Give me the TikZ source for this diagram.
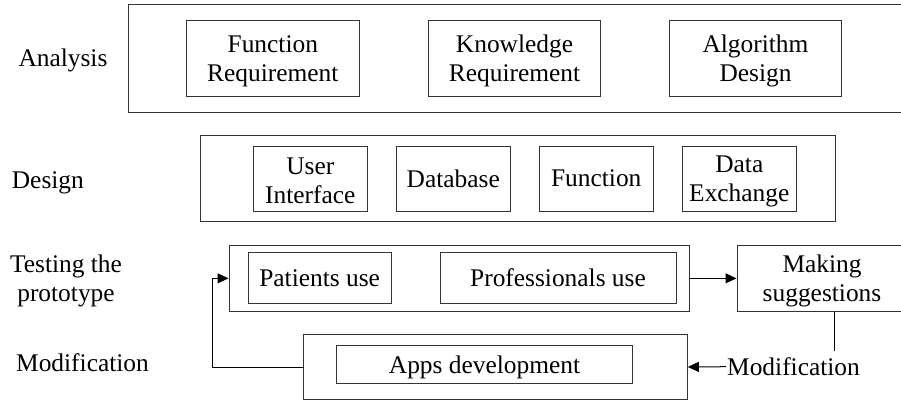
\documentclass[tikz,border=0pt]{standalone}
\usepackage{fontspec}
\setmainfont{Liberation Serif}
\usetikzlibrary{arrows.meta}
\newcommand{\topstrut}{\rule{0pt}{22pt}}
\tikzset{
  txt/.style={font=\fontsize{25.4}{29}\selectfont, inner sep=0pt},
  boxed/.style={draw=black!80, line width=1pt, rectangle, align=center, inner sep=0pt,
     font=\fontsize{25.4}{29}\selectfont},
  conn/.style={draw=black, line width=1pt},
  arr/.style={conn, -{Triangle[length=11pt,width=10pt]}}
}
\begin{document}
\begin{tikzpicture}[x=1pt,y=-1pt]
\useasboundingbox (0,0) rectangle (901,401);
% Analysis row
\node[boxed, minimum width=779pt, minimum height=108pt] (anaOuter) at (517.5,59) {};
\node[boxed, minimum width=173.6pt, minimum height=76pt] (fr) at (272.8,59) {\topstrut Function\\Requirement};
\node[boxed, minimum width=172.6pt, minimum height=76pt] (kr) at (514.5,59) {\topstrut Knowledge\\Requirement};
\node[boxed, minimum width=172.2pt, minimum height=76pt] (ad) at (755.5,59) {\topstrut Algorithm\\Design};
% Design row
\node[boxed, minimum width=634.5pt, minimum height=86.7pt] (desOuter) at (517.75,178.35) {};
\node[boxed, minimum width=114.6pt, minimum height=65pt] (ui) at (310.3,178.5) {\topstrut User\\Interface};
\node[boxed, minimum width=114.1pt, minimum height=65pt] (db) at (453.25,178.5) {Database};
\node[boxed, minimum width=114.5pt, minimum height=65pt] (fn) at (596.25,178.5) {Function};
\node[boxed, minimum width=114.6pt, minimum height=65pt] (dx) at (739.3,178.5) {\topstrut Data\\Exchange};
% Testing row
\node[boxed, minimum width=460.5pt, minimum height=66.7pt] (testOuter) at (459.25,278.35) {};
\node[boxed, minimum width=143.3pt, minimum height=50.6pt] (pu) at (319.65,278) {Patients use};
\node[boxed, minimum width=236pt, minimum height=50.6pt] (pr) at (558,278) {Professionals use};
\node[boxed, minimum width=170pt, minimum height=66.7pt] (ms) at (822,278.35) {\topstrut Making\\suggestions};
% Modification row
\node[boxed, minimum width=383.8pt, minimum height=65pt] (appsOuter) at (495.4,367) {};
\node[boxed, minimum width=296.4pt, minimum height=38pt, text height=24pt, text depth=5.5pt] (apps) at (484.5,364) {Apps development};
\node[txt, anchor=west, inner sep=1pt] (modlab) at (726,366.7) {Modification};
% left labels
\node[txt, anchor=base west] (lana) at (18.3,66.7) {Analysis};
\node[txt, anchor=base west] (ldes) at (11.7,188.3) {Design};
\node[txt, align=center] (ltest) at (66,281.4) {Testing the\\prototype};
\node[txt, anchor=base west] (lmod) at (16,371.7) {Modification};
% connectors
\coordinate (msdrop) at (834,351);
\coordinate (fbk) at (212.3,367);
\draw[arr] (testOuter.east) -- (ms.west);
\draw[conn] (msdrop |- ms.south) -- (msdrop);
\draw[arr] (modlab.west) -- (appsOuter.east);
\draw[arr] (appsOuter.west) -- (appsOuter.west -| fbk) |- (testOuter.west);
\end{tikzpicture}
\end{document}
